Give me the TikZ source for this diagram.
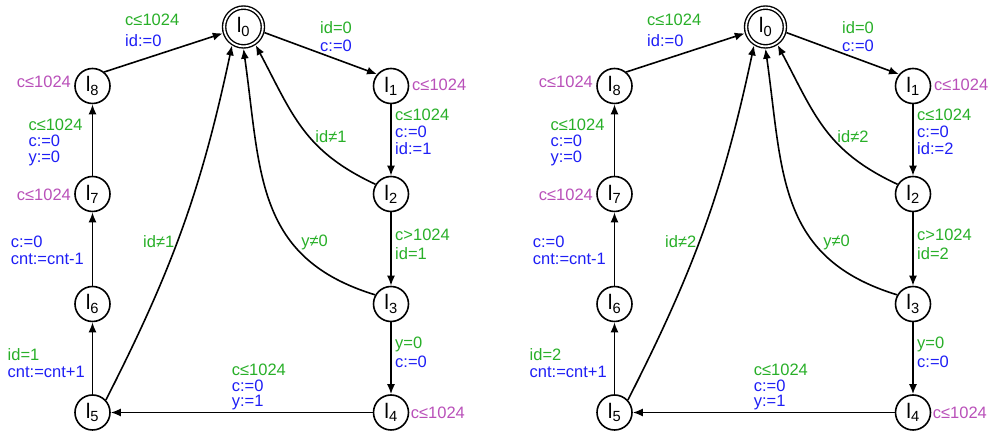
\documentclass[tikz,border=0pt]{standalone}
\usepackage{fontspec}
\setmainfont{Liberation Sans}
\usetikzlibrary{arrows.meta}

\definecolor{grd}{RGB}{40,175,40}
\definecolor{upd}{RGB}{30,30,245}
\definecolor{inv}{RGB}{185,80,185}

\tikzset{
  locn/.style={circle, draw, line width=1.6pt, minimum size=35pt, inner sep=0pt,
    font=\fontsize{21}{21}\selectfont},
  initlocn/.style={locn, line width=1.4pt, double, double distance=1.8pt, minimum size=38.8pt, outer sep=2.3pt},
  trans/.style={line width=1.6pt, -{Latex[length=10pt,width=8pt]}},
  lbl/.style={inner sep=0pt, align=left, font=\fontsize{16.5}{17}\selectfont},
}

\begin{document}
\begin{tikzpicture}[x=1pt,y=1pt]
  \useasboundingbox (0,0) rectangle (990,435);
  % two copies, one per process id
  \foreach \k/\dx in {1/0,2/522}{
  \begin{scope}[shift={(\dx,0)}, name prefix=a\k-]
    % locations
    \node[initlocn] (l0) at (243.5,408) {l\textsubscript{0}};
    \node[locn] (l1) at (391,349) {l\textsubscript{1}};
    \node[locn] (l2) at (391,241) {l\textsubscript{2}};
    \node[locn] (l3) at (391,131) {l\textsubscript{3}};
    \node[locn] (l4) at (391,22.5) {l\textsubscript{4}};
    \node[locn] (l5) at (92.5,22.5) {l\textsubscript{5}};
    \node[locn] (l6) at (92.5,131) {l\textsubscript{6}};
    \node[locn] (l7) at (92.5,241) {l\textsubscript{7}};
    \node[locn] (l8) at (92.5,349) {l\textsubscript{8}};
    % invariants
    \node[lbl, anchor=west, text=inv] (i1) at (412,350) {c≤1024};
    \node[lbl, anchor=west, text=inv] (i4) at (410.7,22) {c≤1024};
    \node[lbl, anchor=west, text=inv] (i7) at (16.7,240) {c≤1024};
    \node[lbl, anchor=west, text=inv] (i8) at (16.7,353) {c≤1024};
    % guards and updates (base = last line)
    \node[lbl, anchor=base west] (e80) at (125,388) {\textcolor{grd}{c≤1024}\\[4pt]\textcolor{upd}{id:=0}};
    \node[lbl, anchor=base west] (e01) at (320,383.3) {\textcolor{grd}{id=0}\\[1pt]\textcolor{upd}{c:=0}};
    \node[lbl, anchor=base west] (e12) at (395,280.7) {\textcolor{grd}{c≤1024}\\\textcolor{upd}{c:=0}\\\textcolor{upd}{id:=\k}};
    \node[lbl, text=grd] (e20) at (331,298) {id≠\k};
    \node[lbl, anchor=base west, text=grd] (e23) at (395,175) {c>1024\\[2pt]id=\k};
    \node[lbl, text=grd] (e30) at (314.5,193) {y≠0};
    \node[lbl, anchor=base west] (e34) at (395,67.7) {\textcolor{grd}{y=0}\\[2pt]\textcolor{upd}{c:=0}};
    \node[lbl, anchor=base west] (e45) at (231.7,28.3) {\textcolor{grd}{c≤1024}\\[-1.5pt]\textcolor{upd}{c:=0}\\[-1.5pt]\textcolor{upd}{y:=1}};
    \node[lbl, anchor=base west] (e56) at (7.5,57) {\textcolor{grd}{id=\k}\\[0.5pt]\textcolor{upd}{cnt:=cnt+1}};
    \node[lbl, anchor=base west, text=upd] (e67) at (10.7,170) {c:=0\\[0.7pt]cnt:=cnt-1};
    \node[lbl, anchor=base west] (e78) at (28.3,272) {\textcolor{grd}{c≤1024}\\[-1pt]\textcolor{upd}{c:=0}\\[-1pt]\textcolor{upd}{y:=0}};
    \node[lbl, text=grd] (e50) at (158.7,193) {id≠\k};
    % transitions
    \draw[trans] (l0.-15) -- (l1.140);
    \draw[trans] (l1) -- (l2);
    \draw[trans] (l2) -- (l3);
    \draw[trans] (l3) -- (l4);
    \draw[trans] (l4) -- (l5);
    \draw[trans] (l5) -- (l6);
    \draw[trans] (l6) -- (l7);
    \draw[trans] (l7) -- (l8);
    \draw[trans] (l8.50) -- (l0.197);
    \draw[trans] (l2.148) to[out=155, in=-62, looseness=1.1] (l0.-56);
    \draw[trans] (l3.150) to[out=163, in=-82, looseness=1.15] (l0.-90);
    \draw[trans] (l5.43) to[out=63, in=-102] (l0.-122);
  \end{scope}
  }
\end{tikzpicture}
\end{document}
